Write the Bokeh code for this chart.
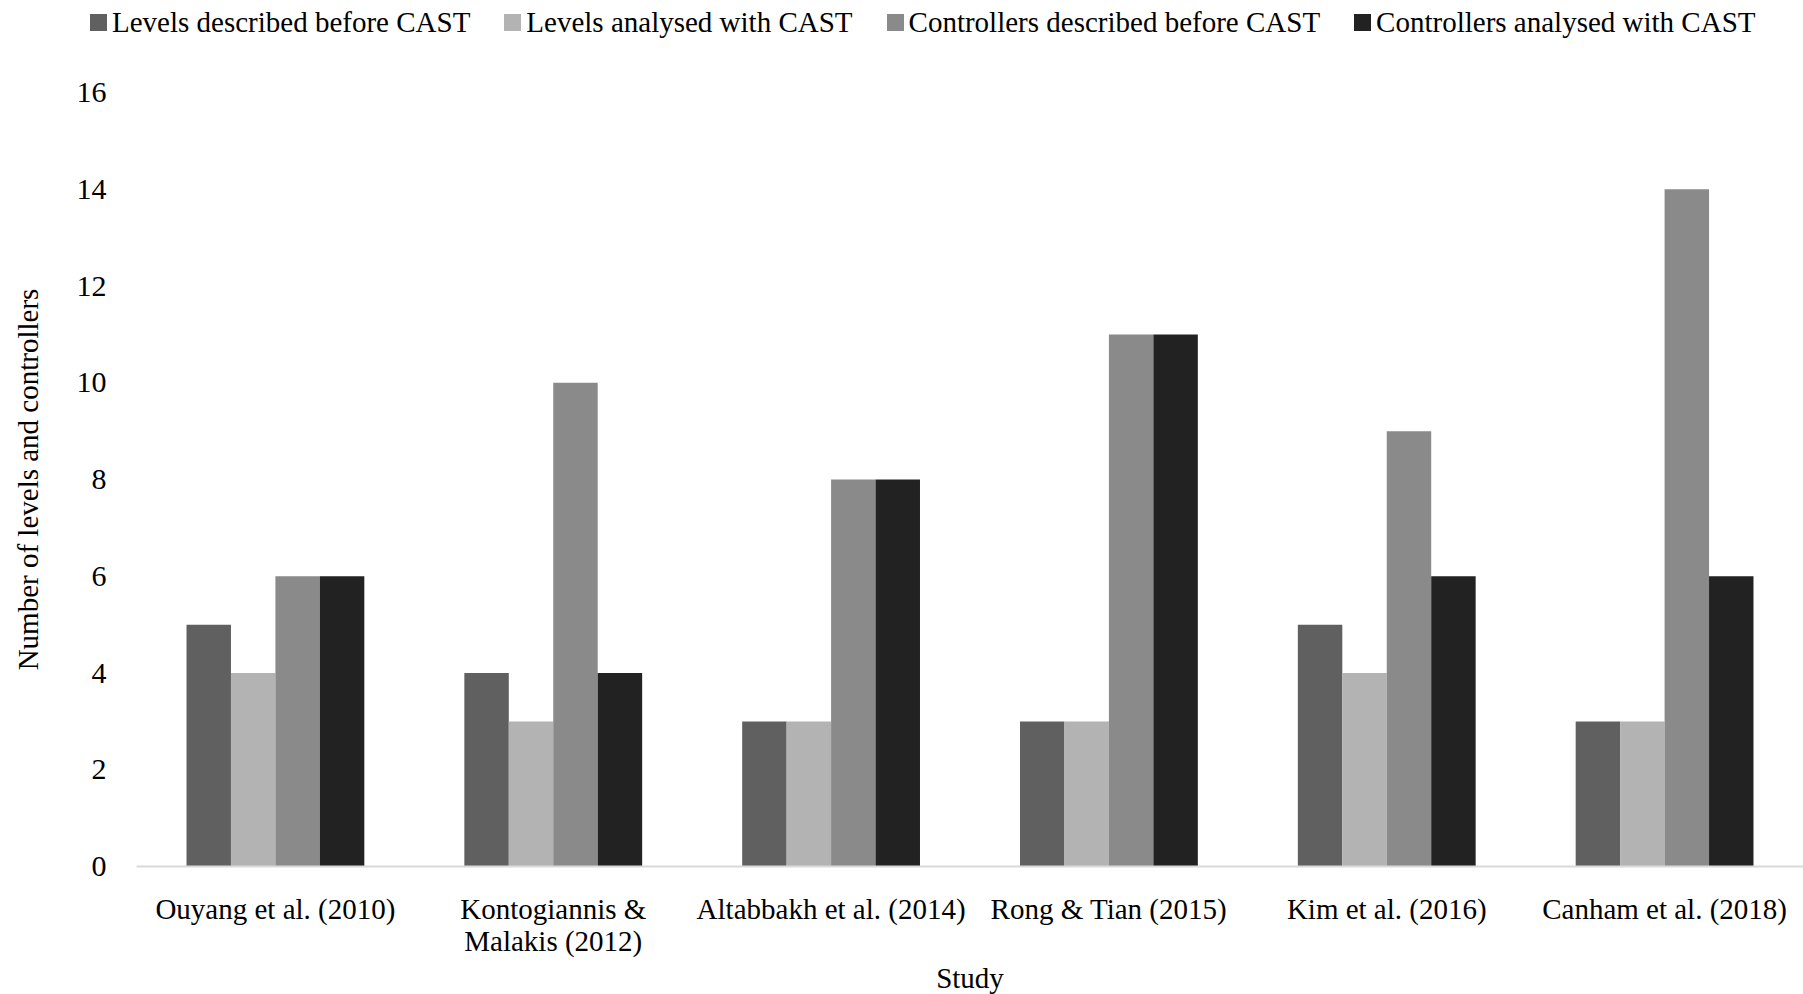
from bokeh.plotting import figure
from bokeh.layouts import column
from bokeh.models import ColumnDataSource, Range1d, Div
from bokeh.transform import dodge
from bokeh.embed import file_html
from bokeh.resources import INLINE

# Studies and counts of hierarchy levels / controllers
studies = [
    "Ouyang et al. (2010)",
    "Kontogiannis &\nMalakis (2012)",
    "Altabbakh et al. (2014)",
    "Rong & Tian (2015)",
    "Kim et al. (2016)",
    "Canham et al. (2018)",
]
levels_before = [5, 4, 3, 3, 5, 3]
levels_cast = [4, 3, 3, 3, 4, 3]
controllers_before = [6, 10, 8, 11, 9, 14]
controllers_cast = [6, 4, 8, 11, 6, 6]

series_names = [
    "Levels described before CAST",
    "Levels analysed with CAST",
    "Controllers described before CAST",
    "Controllers analysed with CAST",
]
series_cols = ["lb", "lc", "cb", "cc"]
series_colors = ["#606060", "#b3b3b3", "#8a8a8a", "#222222"]
offsets = [-0.24, -0.08, 0.08, 0.24]

FONT = "Liberation Serif"

source = ColumnDataSource(dict(
    study=studies,
    lb=levels_before,
    lc=levels_cast,
    cb=controllers_before,
    cc=controllers_cast,
))

# --- main bar chart ---
p = figure(
    x_range=studies,
    y_range=Range1d(0, 16),
    frame_width=1667,
    frame_height=774,
    output_backend="svg",
    toolbar_location=None,
    min_border_left=136,
    min_border_right=0,
    min_border_top=20,
    min_border_bottom=128,
    outline_line_color=None,
)

for col, color, off in zip(series_cols, series_colors, offsets):
    p.vbar(
        x=dodge("study", off, range=p.x_range),
        top=col,
        width=0.16,
        source=source,
        fill_color=color,
        line_color=None,
    )

p.xgrid.grid_line_color = None
p.ygrid.grid_line_color = None

p.yaxis.ticker = [0, 2, 4, 6, 8, 10, 12, 14, 16]
p.yaxis.axis_line_color = None
p.yaxis.major_tick_line_color = None
p.yaxis.minor_tick_line_color = None
p.yaxis.major_label_standoff = 24
p.yaxis.axis_label = "Number of levels and controllers"
p.yaxis.axis_label_standoff = 30

p.xaxis.axis_line_color = "#d9d9d9"
p.xaxis.axis_line_width = 2
p.xaxis.major_tick_line_color = None
p.xaxis.minor_tick_line_color = None
p.xaxis.major_label_standoff = 20
p.xaxis.major_label_text_line_height = 1.0
p.xaxis.axis_label = "Study"
p.xaxis.axis_label_standoff = 2

for ax in (p.xaxis[0], p.yaxis[0]):
    ax.major_label_text_font = FONT
    ax.major_label_text_font_size = "29px"
    ax.major_label_text_color = "#000000"
    ax.axis_label_text_font = FONT
    ax.axis_label_text_font_size = "29px"
    ax.axis_label_text_font_style = "normal"
    ax.axis_label_text_color = "#000000"
p.yaxis.major_label_text_font_size = "30px"

# --- legend strip across the top ---
entries = "".join(
    '<span style="display:inline-flex;align-items:center;margin-right:34px;">'
    f'<span style="display:inline-block;width:17px;height:17px;background:{c};margin-right:5px;"></span>'
    f"{n}</span>"
    for n, c in zip(series_names, series_colors)
)
legend_div = Div(
    text=f'<div style="display:flex;align-items:center;white-space:nowrap;">{entries}</div>',
    width=1803,
    height=72,
    margin=0,
    styles={
        "font-family": f"'{FONT}', serif",
        "font-size": "29px",
        "line-height": "29px",
        "color": "#000000",
        "padding-left": "90px",
        "padding-top": "7px",
        "box-sizing": "border-box",
    },
)

layout = column(legend_div, p, spacing=0)
open("out.html", "w").write(file_html(layout, INLINE))
